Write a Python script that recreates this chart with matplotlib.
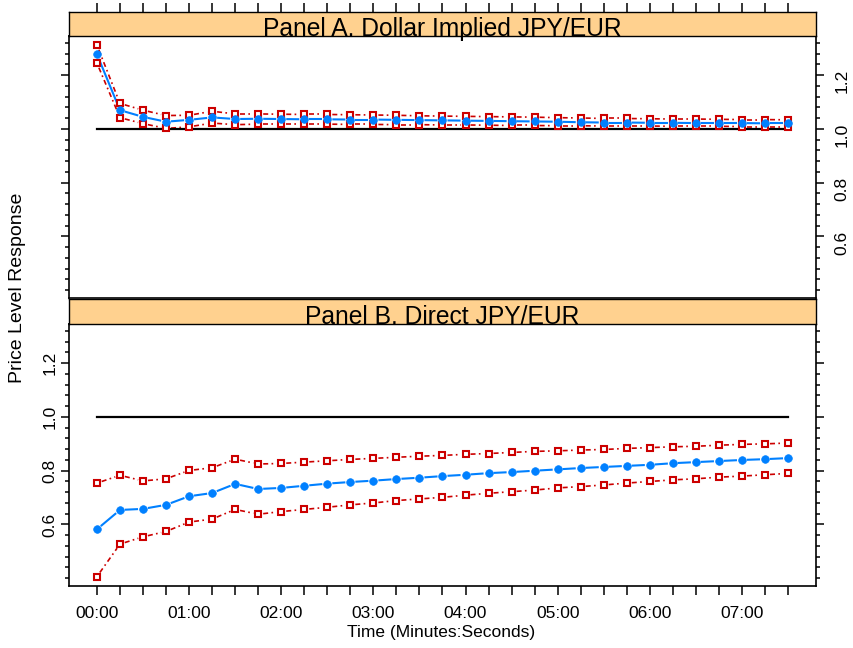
import numpy as np
import matplotlib
matplotlib.use("Agg")
import matplotlib.pyplot as plt
from matplotlib.ticker import FixedLocator

plt.rcParams['font.family'] = ['Liberation Sans', 'DejaVu Sans']

# time grid, seconds (every 15 s)
t_sec = np.arange(0, 451, 15)
tick_labels = ['%02d:%02d' % (s // 60, s % 60) if s % 60 == 0 else '' for s in t_sec]

panel_titles = ['Panel A. Dollar Implied JPY/EUR', 'Panel B. Direct JPY/EUR']

# Panel A: dollar implied
a_mean = [1.278, 1.070, 1.045, 1.027, 1.034, 1.043, 1.037, 1.038, 1.037, 1.036, 1.036,
          1.035, 1.035, 1.034, 1.033, 1.032, 1.031, 1.030, 1.029, 1.028, 1.027,
          1.025, 1.024, 1.024, 1.023, 1.023, 1.022, 1.022, 1.022, 1.021, 1.021]
a_upper = [1.312, 1.095, 1.070, 1.050, 1.051, 1.066, 1.056, 1.056, 1.055, 1.054, 1.054,
           1.053, 1.052, 1.051, 1.049, 1.048, 1.047, 1.046, 1.045, 1.044, 1.042,
           1.041, 1.039, 1.039, 1.038, 1.037, 1.037, 1.036, 1.035, 1.035, 1.034]
a_lower = [1.245, 1.042, 1.020, 1.002, 1.008, 1.022, 1.016, 1.018, 1.018, 1.018, 1.018,
           1.017, 1.017, 1.016, 1.016, 1.015, 1.015, 1.014, 1.013, 1.013, 1.012,
           1.012, 1.011, 1.011, 1.011, 1.010, 1.010, 1.010, 1.009, 1.009, 1.009]

# Panel B: direct
b_mean = [0.582, 0.654, 0.658, 0.673, 0.705, 0.717, 0.751, 0.732, 0.736, 0.744, 0.752,
          0.758, 0.763, 0.769, 0.774, 0.780, 0.785, 0.791, 0.795, 0.800, 0.805,
          0.810, 0.814, 0.818, 0.822, 0.828, 0.832, 0.836, 0.840, 0.843, 0.847]
b_upper = [0.754, 0.783, 0.762, 0.770, 0.801, 0.811, 0.843, 0.825, 0.827, 0.832, 0.837,
           0.842, 0.846, 0.850, 0.854, 0.857, 0.861, 0.864, 0.868, 0.872, 0.874,
           0.877, 0.879, 0.883, 0.886, 0.889, 0.891, 0.895, 0.898, 0.900, 0.903]
b_lower = [0.406, 0.527, 0.554, 0.574, 0.609, 0.620, 0.656, 0.638, 0.648, 0.656, 0.664,
           0.673, 0.680, 0.689, 0.695, 0.701, 0.709, 0.716, 0.722, 0.728, 0.736,
           0.741, 0.747, 0.754, 0.760, 0.766, 0.770, 0.776, 0.780, 0.785, 0.790]

y_major = [0.6, 0.8, 1.0, 1.2]
y_minor = [round(0.40 + 0.04 * i, 2) for i in range(24)]

BLUE = '#0080ff'
RED = '#cc0000'
STRIP = '#ffd18f'

W, H = 854, 648
fig = plt.figure(figsize=(W / 100, H / 100), dpi=100)


def rect(top, bottom, left=69, right=816):
    return [left / W, 1 - bottom / H, (right - left) / W, (bottom - top) / H]


xlim = (-18.2, 468.2)
ylim = (0.371, 1.346)


def draw_b(ax, x, y, color, ls, lw, marker, ms, mfc, mew, gap=5.0):
    # R type="b": segments stop short of the points
    pts = ax.transData.transform(np.column_stack([x, y]))
    inv = ax.transData.inverted()
    for p0, p1 in zip(pts[:-1], pts[1:]):
        d = p1 - p0
        L = np.hypot(d[0], d[1])
        if L <= 2 * gap + 1:
            continue
        u = d / L
        seg = inv.transform(np.array([p0 + u * gap, p1 - u * gap]))
        ax.plot(seg[:, 0], seg[:, 1], color=color, ls=ls, lw=lw,
                solid_capstyle='butt', dash_capstyle='butt', zorder=2)
    ax.plot(x, y, ls='none', marker=marker, ms=ms, mfc=mfc, mec=color,
            mew=mew, zorder=4)


def panel(ax, mean, upper, lower):
    ax.set_xlim(*xlim)
    ax.set_ylim(*ylim)
    ax.plot([t_sec[0], t_sec[-1]], [1.0, 1.0], color='black', lw=1.6, zorder=3)
    for s in (upper, lower):
        draw_b(ax, t_sec, s, RED, (0, (3, 2, 1, 2)), 1.2, 's', 4.6, 'white', 1.5)
    draw_b(ax, t_sec, mean, BLUE, '-', 1.5, 'o', 5.5, BLUE, 0.5)
    for sp in ax.spines.values():
        sp.set_linewidth(1.2)
    ax.yaxis.set_major_locator(FixedLocator(y_major))
    ax.yaxis.set_minor_locator(FixedLocator(y_minor))
    ax.set_yticklabels(['0.6', '0.8', '1.0', '1.2'])
    ax.tick_params(axis='y', which='major', length=5.5, width=1.1, labelsize=12.5,
                   labelrotation=90, left=True, right=True, pad=3)
    ax.tick_params(axis='y', which='minor', length=3, width=1.1, left=True, right=True)
    for lab in ax.get_yticklabels():
        lab.set_va('center')


def strip(ax, title):
    ax.set_xlim(*xlim)
    ax.set_ylim(0, 1)
    ax.set_facecolor(STRIP)
    ax.set_yticks([])
    for sp in ax.spines.values():
        sp.set_linewidth(1.0)
    ax.text(0.5, 0.02, title, transform=ax.transAxes, ha='center', va='baseline',
            fontsize=17.7, clip_on=False, zorder=5)


# Panel A
ax_a = fig.add_axes(rect(36, 298))
panel(ax_a, a_mean, a_upper, a_lower)
ax_a.set_xticks([])
ax_a.tick_params(axis='y', labelleft=False, labelright=True)
ax_a.tick_params(axis='y', which='major', pad=8)

sa = fig.add_axes(rect(12, 36))
strip(sa, panel_titles[0])
sa.set_xticks(t_sec)
sa.tick_params(axis='x', bottom=False, top=True, labelbottom=False, labeltop=False,
               length=6.5, width=1.1)

# Panel B
ax_b = fig.add_axes(rect(324, 586))
panel(ax_b, b_mean, b_upper, b_lower)
ax_b.tick_params(axis='y', labelleft=True, labelright=False)
ax_b.set_xticks(t_sec)
ax_b.set_xticklabels(tick_labels)
ax_b.tick_params(axis='x', length=6.5, width=1.1, labelsize=12.5, pad=8)

sb = fig.add_axes(rect(299, 324))
strip(sb, panel_titles[1])
sb.set_xticks([])

fig.text(18 / W, 1 - 288 / H, 'Price Level Response', rotation=90,
         ha='center', va='center', fontsize=14)
fig.text(441 / W, 1 - 633 / H, 'Time (Minutes:Seconds)',
         ha='center', va='center', fontsize=12.5)

fig.savefig('out.png', dpi=100)
